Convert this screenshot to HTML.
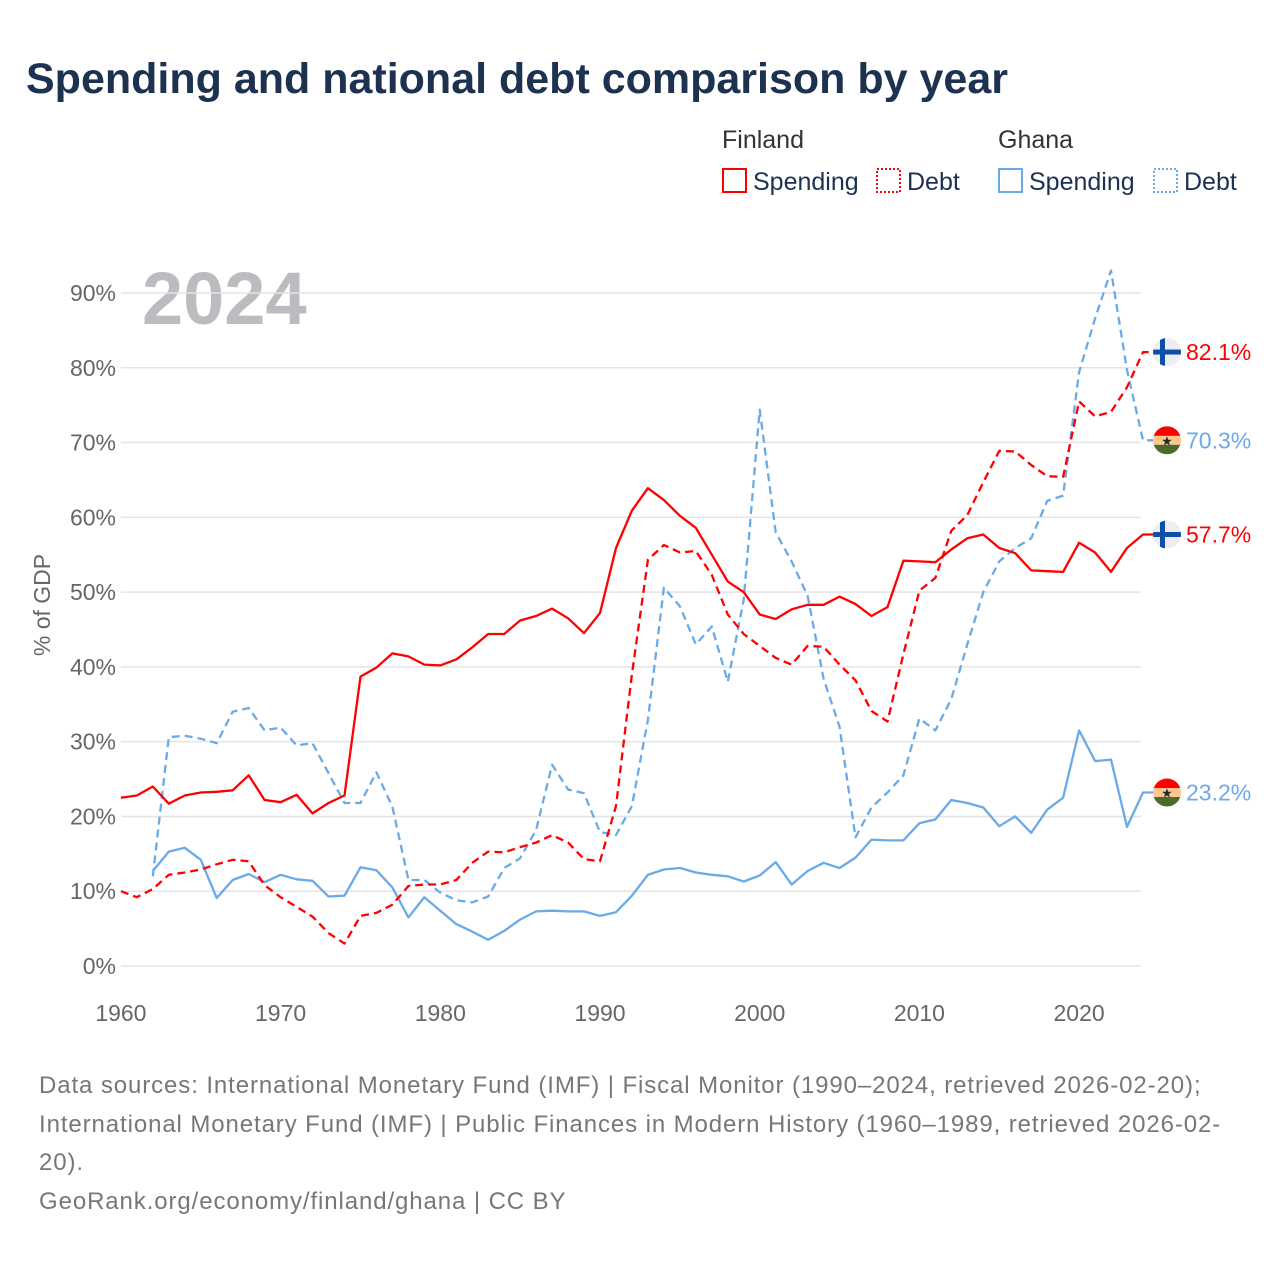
<!DOCTYPE html>
<html><head><meta charset="utf-8"><style>
body{margin:0;background:#fff;font-family:"Liberation Sans",sans-serif;}
#wrap{position:relative;width:1280px;height:1280px;overflow:hidden;}
</style></head><body>
<div id="wrap">
<svg id="chart" width="1280" height="1280">
<text x="26" y="93" font-size="43" font-weight="bold" fill="#1d3251">Spending and national debt comparison by year</text>
<g font-size="25" fill="#1d3251">
<text x="722" y="148" fill="#333">Finland</text>
<text x="998" y="148" fill="#333">Ghana</text>
<g><rect x="723" y="169" width="23" height="23" fill="none" stroke="#f00" stroke-width="2"/><text x="753" y="190" fill="#1d3251">Spending</text></g>
<g><rect x="877" y="169" width="23" height="23" fill="none" stroke="#f00" stroke-width="2" stroke-dasharray="2,2"/><text x="907" y="190" fill="#1d3251">Debt</text></g>
<g><rect x="999" y="169" width="23" height="23" fill="none" stroke="#6aaae8" stroke-width="2"/><text x="1029" y="190" fill="#1d3251">Spending</text></g>
<g><rect x="1154" y="169" width="23" height="23" fill="none" stroke="#6aaae8" stroke-width="2" stroke-dasharray="2,2"/><text x="1184" y="190" fill="#1d3251">Debt</text></g>
</g>
<text x="142" y="324" font-size="74" font-weight="bold" fill="#bbbcbf">2024</text>
<g id="grid"></g>
<g id="yticks"></g>
<g id="xticks"></g>
<text transform="translate(50,605) rotate(-90)" text-anchor="middle" font-size="23" fill="#666">% of GDP</text>
<g id="series"></g>
<g id="ends"></g>
<g font-size="24" fill="#777" letter-spacing="0.9">
<text x="39" y="1093">Data sources: International Monetary Fund (IMF) | Fiscal Monitor (1990–2024, retrieved 2026-02-20);</text>
<text x="39" y="1132">International Monetary Fund (IMF) | Public Finances in Modern History (1960–1989, retrieved 2026-02-</text>
<text x="39" y="1170">20).</text>
<text x="39" y="1209">GeoRank.org/economy/finland/ghana | CC BY</text>
</g>
</svg>
</div>
<script>
const yTicks=[0,10,20,30,40,50,60,70,80,90];
const xTicks=[1960,1970,1980,1990,2000,2010,2020];
const finSpendStart=1960;
const finSpending=[22.5,22.8,24.0,21.7,22.8,23.2,23.3,23.5,25.5,22.2,21.9,22.9,20.4,21.8,22.8,38.7,39.9,41.8,41.4,40.3,40.2,41.0,42.6,44.4,44.4,46.2,46.8,47.8,46.5,44.5,47.2,55.9,60.9,63.9,62.3,60.2,58.6,55.0,51.4,50.0,47.0,46.4,47.7,48.3,48.3,49.4,48.4,46.8,48.0,54.2,54.1,54.0,55.7,57.2,57.7,55.9,55.2,52.9,52.8,52.7,56.6,55.3,52.7,55.9,57.7];
const finDebtStart=1960;
const finDebt=[10.0,9.2,10.3,12.2,12.5,12.9,13.6,14.2,14.0,10.8,9.2,7.9,6.6,4.4,3.0,6.7,7.1,8.2,10.7,10.9,10.9,11.5,13.8,15.3,15.2,15.9,16.5,17.5,16.5,14.3,14.0,21.4,39.0,54.3,56.3,55.3,55.5,52.3,47.0,44.4,42.8,41.2,40.3,42.8,42.7,40.3,38.2,34.1,32.7,41.7,50.2,51.9,58.2,60.3,64.7,68.9,68.8,67.0,65.5,65.4,75.5,73.5,74.1,77.4,82.1];
const ghaSpendStart=1962;
const ghaSpending=[12.7,15.3,15.8,14.2,9.1,11.5,12.3,11.2,12.2,11.6,11.4,9.3,9.4,13.2,12.8,10.5,6.5,9.2,7.4,5.6,4.6,3.5,4.7,6.2,7.3,7.4,7.3,7.3,6.7,7.2,9.4,12.2,12.9,13.1,12.5,12.2,12.0,11.3,12.1,13.9,10.9,12.7,13.8,13.1,14.5,16.9,16.8,16.8,19.1,19.6,22.2,21.8,21.2,18.7,20.0,17.8,20.9,22.5,31.5,27.4,27.6,18.6,23.2];
const ghaDebtStart=1962;
const ghaDebt=[12.0,30.6,30.8,30.4,29.8,34.0,34.5,31.5,31.9,29.5,29.8,25.8,21.8,21.8,25.9,21.3,11.5,11.5,9.8,8.8,8.5,9.3,13.1,14.4,18.2,26.9,23.6,23.1,17.9,17.5,21.4,32.9,50.6,48.1,43.0,45.4,38.0,49.0,74.4,58.0,54.1,49.5,38.4,32.0,17.2,21.2,23.2,25.5,33.1,31.5,35.7,43.0,50.0,54.1,55.9,57.2,62.2,62.9,79.4,86.6,93.0,79.7,70.3];

const NS="http://www.w3.org/2000/svg";
const X0=121,X1=1141,Y0=966;
function xs(y){return 120.9+(y-1960)*15.97;}
function ys(v){return Y0-v*7.478;}
function mk(t,a,p){const e=document.createElementNS(NS,t);for(const k in a)e.setAttribute(k,a[k]);p.appendChild(e);return e;}
const grid=document.getElementById('grid'),yt=document.getElementById('yticks'),xt=document.getElementById('xticks');
yTicks.forEach(v=>{
 const l=mk('line',{x1:X0,x2:X1,y1:ys(v),y2:ys(v),stroke:'#e4e4e4','stroke-width':1.5},grid);
 
 
 const t=mk('text',{x:116,y:ys(v)+8,'text-anchor':'end','font-size':23,fill:'#666'},yt);
 t.textContent=v+'%';
 
 
});
xTicks.forEach(v=>{
 const t=mk('text',{x:xs(v),y:1021,'text-anchor':'middle','font-size':23,fill:'#666'},xt);
 t.textContent=v;
 
 
});
const ser=document.getElementById('series');
function line(arr,start,color,dash,name){
 const pts=arr.map((v,i)=>xs(start+i).toFixed(1)+','+ys(v).toFixed(1));
 const last=arr[arr.length-1];
 pts.push('1155,'+ys(last).toFixed(1));
 const p=mk('polyline',{points:pts.join(' '),fill:'none',stroke:color,'stroke-width':2.3,'stroke-linejoin':'round'},ser);
 if(dash)p.setAttribute('stroke-dasharray',dash);
 
 
}
line(ghaDebt,ghaDebtStart,'#6aaae8','8,5','ghana-debt-line');
line(ghaSpending,ghaSpendStart,'#6aaae8',null,'ghana-spending-line');
line(finDebt,finDebtStart,'#f00','8,5','finland-debt-line');
line(finSpending,finSpendStart,'#f00',null,'finland-spending-line');
const ends=document.getElementById('ends');
function finFlag(cy,name){
 const g=mk('g',{},ends);
 
 
 const id='f'+Math.round(cy);
 const cp=mk('clipPath',{id:id},g);mk('circle',{cx:1167,cy:cy,r:14},cp);
 const h=mk('g',{'clip-path':'url(#'+id+')'},g);
 mk('rect',{x:1153,y:cy-14,width:28,height:28,fill:'#eeeef2'},h);
 mk('rect',{x:1153,y:cy-2.5,width:28,height:5,fill:'#0d4fa8'},h);
 mk('rect',{x:1160,y:cy-14,width:5,height:28,fill:'#0d4fa8'},h);
}
function ghaFlag(cy,name){
 const g=mk('g',{},ends);
 
 
 const id='c'+Math.round(cy);
 const cp=mk('clipPath',{id:id},g);mk('circle',{cx:1167,cy:cy,r:14},cp);
 const h=mk('g',{'clip-path':'url(#'+id+')'},g);
 mk('rect',{x:1153,y:cy-14,width:28,height:10,fill:'#f00'},h);
 mk('rect',{x:1153,y:cy-4.5,width:28,height:9,fill:'#ffc78a'},h);
 mk('rect',{x:1153,y:cy+4.5,width:28,height:10,fill:'#4b6b2c'},h);
 const s=mk('text',{x:1167,y:cy+5,'text-anchor':'middle','font-size':13,fill:'#1a2a3a'},g);s.textContent='★';
}
function lab(v,color,name){
 const t=mk('text',{x:1186,y:ys(v)+8,'font-size':23,fill:color},ends);
 t.textContent=v.toFixed(1)+'%';
 
 
}
const fd=finDebt[finDebt.length-1],fs=finSpending[finSpending.length-1],gd=ghaDebt[ghaDebt.length-1],gs=ghaSpending[ghaSpending.length-1];
finFlag(ys(fd),'finland-flag-debt');lab(fd,'#f00','finland-debt-value');
ghaFlag(ys(gd),'ghana-flag-debt');lab(gd,'#6aaae8','ghana-debt-value');
finFlag(ys(fs),'finland-flag-spending');lab(fs,'#f00','finland-spending-value');
ghaFlag(ys(gs),'ghana-flag-spending');lab(gs,'#6aaae8','ghana-spending-value');
</script>
</body></html>
